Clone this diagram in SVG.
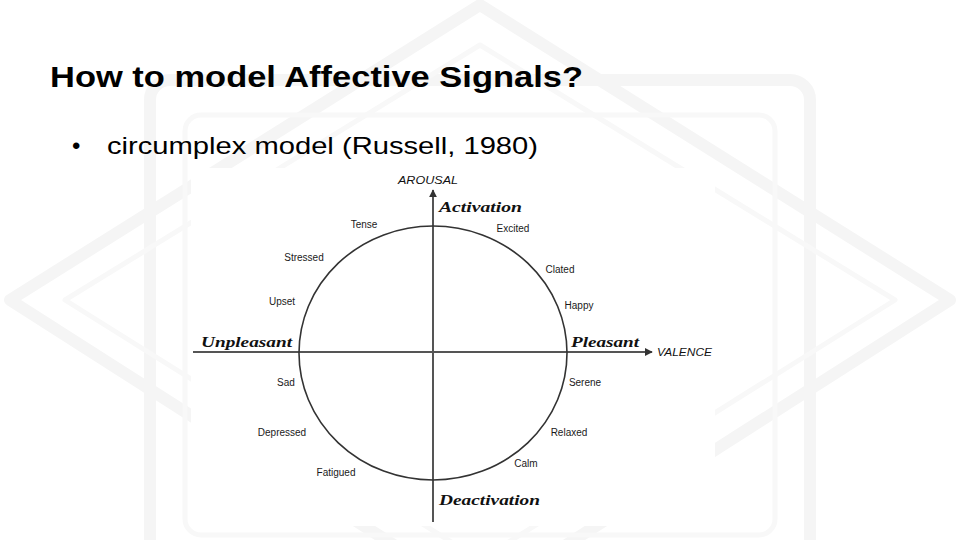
<svg xmlns="http://www.w3.org/2000/svg" width="960" height="540" viewBox="0 0 960 540">
  <defs>
    <style>
      .title { font-family: "Liberation Sans", "Open Sans", sans-serif; font-weight: bold; font-size: 30px; fill: #000; }
      .bullet { font-family: "Liberation Sans", "Open Sans", sans-serif; font-size: 24px; fill: #000; }
      .lbl { font-family: "Liberation Sans", Arial, sans-serif; font-size: 10px; fill: #1a1a1a; text-anchor: middle; }
      .pole { font-family: "Liberation Serif", "DejaVu Serif", serif; font-style: italic; font-weight: bold; font-size: 14px; fill: #111; }
      .axisname { font-family: "Liberation Sans", Arial, sans-serif; font-style: italic; font-size: 10.5px; fill: #111; }
      .axis { stroke: #555; stroke-width: 2; fill: none; }
      .wm { fill: none; stroke: #f5f5f5; stroke-width: 12; stroke-linejoin: round; }
      .wm2 { fill: none; stroke: #f8f8f8; stroke-width: 5; stroke-linejoin: round; }
    </style>
    <marker id="arr" viewBox="0 0 10 10" refX="9" refY="5" markerWidth="4" markerHeight="4" orient="auto" markerUnits="strokeWidth">
      <path d="M0,0 L10,5 L0,10 z" fill="#333"/>
    </marker>
  </defs>

  <rect x="0" y="0" width="960" height="540" fill="#ffffff"/>

  <g id="watermark">
    <polygon class="wm" points="480,5 950,300 480,600 10,300"/>
    <rect class="wm" x="150" y="80" width="660" height="480" rx="20"/>
    <polygon class="wm2" points="480,45 895,300 480,560 65,300"/>
    <rect class="wm2" x="185" y="115" width="590" height="420" rx="16"/>
  </g>

  <rect id="figure-bg" x="191" y="168" width="524" height="358" fill="#ffffff"/>

  <g id="title">
    <text class="title" x="50" y="87" textLength="533" lengthAdjust="spacingAndGlyphs">How to model Affective Signals?</text>
  </g>
  <g id="bullet">
    <text class="bullet" x="72" y="154">•</text>
    <text class="bullet" x="107" y="154" textLength="431" lengthAdjust="spacingAndGlyphs">circumplex model (Russell, 1980)</text>
  </g>

  <g id="connectors">
    <line id="arousal-axis" class="axis" x1="433" y1="522" x2="433" y2="190" marker-end="url(#arr)"/>
    <line id="valence-axis" class="axis" x1="193" y1="352" x2="652" y2="352" marker-end="url(#arr)"/>
  </g>

  <g id="circle">
    <ellipse cx="433" cy="353" rx="134" ry="127" fill="none" stroke="#333" stroke-width="1.6"/>
  </g>

  <g id="arousal"><text class="axisname" x="398" y="184" textLength="60" lengthAdjust="spacingAndGlyphs">AROUSAL</text></g>
  <g id="valence"><text class="axisname" x="657" y="356" textLength="55" lengthAdjust="spacingAndGlyphs">VALENCE</text></g>
  <g id="activation"><text class="pole" x="439" y="212" textLength="83" lengthAdjust="spacingAndGlyphs">Activation</text></g>
  <g id="deactivation"><text class="pole" x="439" y="505" textLength="101" lengthAdjust="spacingAndGlyphs">Deactivation</text></g>
  <g id="unpleasant"><text class="pole" x="201" y="347" textLength="91" lengthAdjust="spacingAndGlyphs">Unpleasant</text></g>
  <g id="pleasant"><text class="pole" x="571" y="347" textLength="68" lengthAdjust="spacingAndGlyphs">Pleasant</text></g>

  <g id="tense"><text class="lbl" x="364" y="228">Tense</text></g>
  <g id="excited"><text class="lbl" x="513" y="232">Excited</text></g>
  <g id="stressed"><text class="lbl" x="304" y="261">Stressed</text></g>
  <g id="clated"><text class="lbl" x="560" y="273">Clated</text></g>
  <g id="upset"><text class="lbl" x="282" y="305">Upset</text></g>
  <g id="happy"><text class="lbl" x="579" y="309">Happy</text></g>
  <g id="sad"><text class="lbl" x="286" y="386">Sad</text></g>
  <g id="serene"><text class="lbl" x="585" y="386">Serene</text></g>
  <g id="depressed"><text class="lbl" x="282" y="436">Depressed</text></g>
  <g id="relaxed"><text class="lbl" x="569" y="436">Relaxed</text></g>
  <g id="calm"><text class="lbl" x="526" y="467">Calm</text></g>
  <g id="fatigued"><text class="lbl" x="336" y="476">Fatigued</text></g>
</svg>
